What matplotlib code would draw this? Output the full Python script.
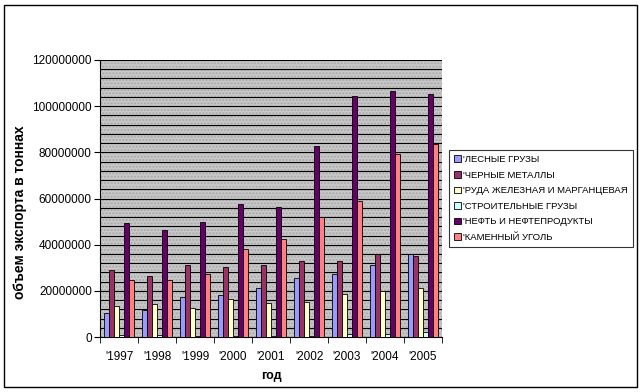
import matplotlib.pyplot as plt
import numpy as np
from matplotlib.patches import Rectangle

plt.rcParams['font.family'] = ['Liberation Sans', 'DejaVu Sans']

# годы и объемы экспорта (тонны)
years = ["'1997", "'1998", "'1999", "'2000", "'2001", "'2002", "'2003", "'2004", "'2005"]
lesnye = [10.3e6, 11.7e6, 17.3e6, 18.2e6, 21.2e6, 25.4e6, 27.3e6, 31.2e6, 36.0e6]
chernye = [29.0e6, 26.4e6, 31.2e6, 30.3e6, 31.2e6, 32.9e6, 32.9e6, 36.2e6, 35.1e6]
ruda = [13.4e6, 14.3e6, 12.6e6, 16.5e6, 14.6e6, 15.2e6, 18.5e6, 20.1e6, 21.2e6]
stroit = [0.8e6, 0.8e6, 0.5e6, 0.5e6, 0.5e6, 0.5e6, 1.5e6, 1.5e6, 2.2e6]
neft = [49.4e6, 46.4e6, 49.8e6, 57.6e6, 56.3e6, 82.8e6, 104.3e6, 106.6e6, 105.3e6]
ugol = [24.7e6, 24.7e6, 27.3e6, 38.1e6, 42.5e6, 52.0e6, 58.9e6, 79.3e6, 83.5e6]

names = ["'ЛЕСНЫЕ ГРУЗЫ", "'ЧЕРНЫЕ МЕТАЛЛЫ", "'РУДА ЖЕЛЕЗНАЯ И МАРГАНЦЕВАЯ",
         "'СТРОИТЕЛЬНЫЕ ГРУЗЫ", "'НЕФТЬ И НЕФТЕПРОДУКТЫ", "'КАМЕННЫЙ УГОЛЬ"]
series = [lesnye, chernye, ruda, stroit, neft, ugol]
colors = ['#9999FF', '#993366', '#FFFFCC', '#CCFFFF', '#660066', '#FF8080']

fig = plt.figure(figsize=(6.42, 3.92), dpi=100)
# рамка вокруг всей диаграммы
fig.patches.append(Rectangle((0.0062, 0.0128), 0.986, 0.974, transform=fig.transFigure,
                             fill=False, edgecolor='black', linewidth=1))
ax = fig.add_axes([0.156, 0.140, 0.5325, 0.707])
ax.set_facecolor('#C8C8C8')
ax.add_patch(Rectangle((0, 0), 1, 1, transform=ax.transAxes, facecolor='none',
                       edgecolor='#A8A8A8', hatch='.....', linewidth=0, zorder=0))

x = np.arange(len(years))
w = 0.133
for i, (vals, name, c) in enumerate(zip(series, names, colors)):
    ax.bar(x + (i - 2.5) * w, vals, w, color=c, edgecolor='black', linewidth=0.6,
           label=name, zorder=3)

ax.set_xlim(-0.5, len(years) - 0.5)
ax.set_ylim(0, 120e6)
yt = np.arange(0, 120e6 + 1, 20e6)
ax.set_yticks(yt)
ax.set_yticklabels([f'{int(v)}' for v in yt], fontsize=8.5)
ax.set_yticks(np.arange(0, 120e6 + 1, 4e6), minor=True)
ax.grid(True, axis='y', which='both', color='black', linewidth=0.8, zorder=1)
ax.set_axisbelow(True)
ax.set_xticks(x)
ax.set_xticklabels(years, fontsize=8.5)
ax.set_xticks(np.arange(-0.5, len(years)), minor=True)
ax.tick_params(axis='x', which='major', length=0, pad=10)
ax.tick_params(axis='x', which='minor', length=4, direction='out')
ax.tick_params(axis='y', which='major', length=4, direction='out', pad=2)
ax.tick_params(axis='y', which='minor', length=0)
for s in ['top', 'right']:
    ax.spines[s].set_visible(False)

ax.set_xlabel('год', fontsize=9, fontweight='bold')
ax.xaxis.set_label_coords(0.5, -0.12)
ax.set_ylabel('объем экспорта в тоннах', fontsize=10, fontweight='bold')
ax.yaxis.set_label_coords(-0.215, 0.45)

leg = ax.legend(loc='center left', bbox_to_anchor=(1.02, 0.50), fontsize=6.8,
                frameon=True, fancybox=False, edgecolor='black', handlelength=0.7,
                handleheight=0.7, handletextpad=0.3, labelspacing=0.7, borderpad=0.55,
                borderaxespad=0)
leg.get_frame().set_linewidth(0.8)

fig.savefig('out.png', dpi=100)
